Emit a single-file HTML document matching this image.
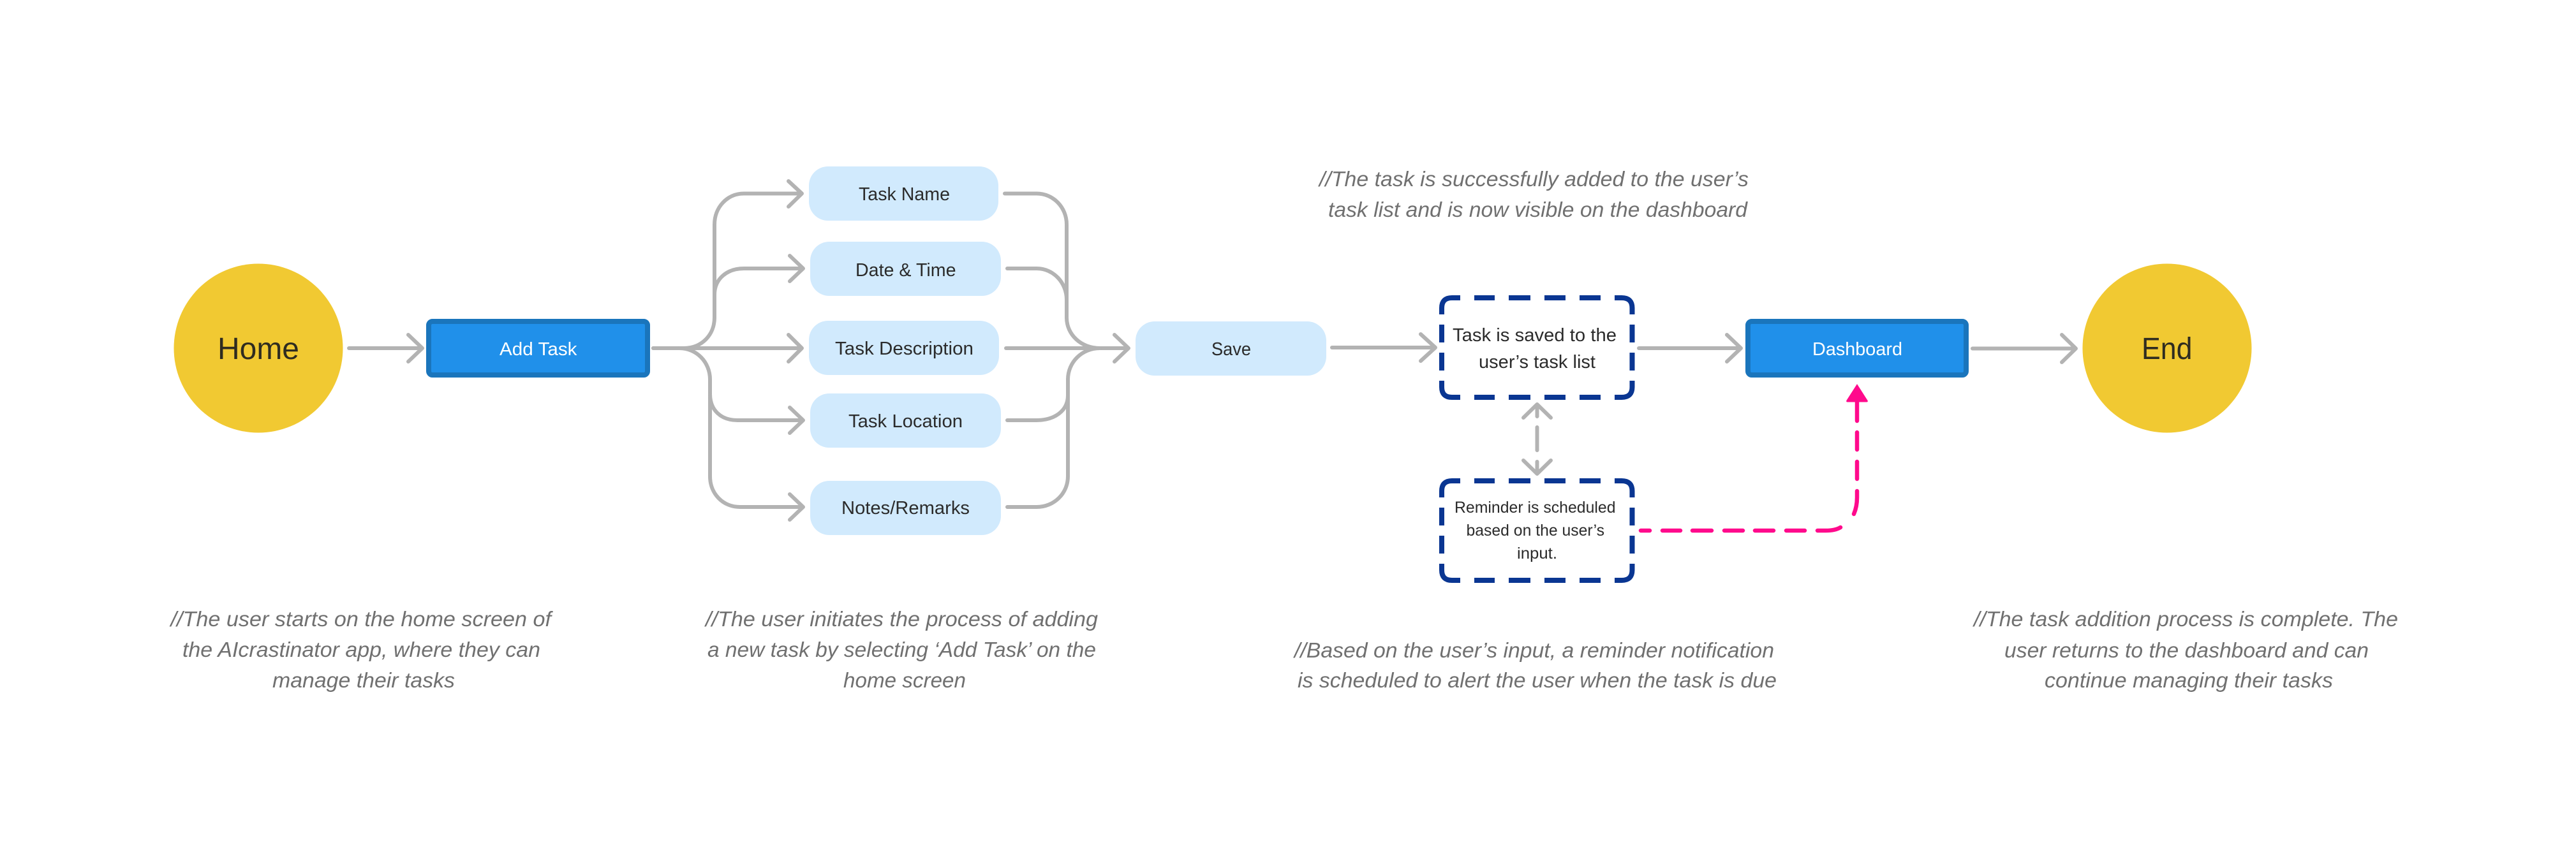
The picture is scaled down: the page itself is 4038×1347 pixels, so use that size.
<!DOCTYPE html>
<html><head><meta charset="utf-8"><style>
html,body{margin:0;padding:0;background:#fff;width:4038px;height:1347px;overflow:hidden}
svg{display:block}
text{font-family:"Liberation Sans",sans-serif}
.a{font-style:italic;font-size:33.5px;fill:#707070}
.n{font-size:29px;fill:#2b2b2b}
.s{font-size:25px;fill:#2b2b2b}
.w{font-size:29px;fill:#fff}
.b{font-size:48.5px;fill:#2f2c20}
.g{fill:none;stroke:#b3b3b3;stroke-width:6;stroke-linecap:round;stroke-linejoin:round}
.d{fill:none;stroke:#0a3692;stroke-width:8}
.p{fill:none;stroke:#ff0a8c;stroke-width:6.5;stroke-linecap:round}
</style></head><body>
<svg width="4038" height="1347" viewBox="0 0 4038 1347" xmlns="http://www.w3.org/2000/svg">
<rect width="4038" height="1347" fill="#fff"/>

<circle cx="405" cy="546" r="132.5" fill="#f1c932"/>
<circle cx="3397" cy="546" r="132.5" fill="#f1c932"/>
<text class="b" x="341" y="563" textLength="128" lengthAdjust="spacingAndGlyphs">Home</text>
<text class="b" x="3357" y="563" textLength="79.5" lengthAdjust="spacingAndGlyphs">End</text>

<rect x="672" y="504" width="343" height="84" rx="6" fill="#2090ea" stroke="#1a75bc" stroke-width="8"/>
<text class="w" x="783" y="557" textLength="121.5" lengthAdjust="spacingAndGlyphs">Add Task</text>
<rect x="2740" y="504" width="342" height="84" rx="6" fill="#2090ea" stroke="#1a75bc" stroke-width="8"/>
<text class="w" x="2841" y="557" textLength="141" lengthAdjust="spacingAndGlyphs">Dashboard</text>

<g fill="#d1eafd">
<rect x="1268" y="261" width="297" height="85" rx="30"/>
<rect x="1270" y="379" width="299" height="85" rx="30"/>
<rect x="1268" y="503" width="298" height="85" rx="30"/>
<rect x="1270" y="617" width="299" height="85" rx="30"/>
<rect x="1270" y="754" width="299" height="85" rx="30"/>
<rect x="1780" y="504" width="299" height="85" rx="30"/>
</g>
<text class="n" x="1346" y="314" textLength="143" lengthAdjust="spacingAndGlyphs">Task Name</text>
<text class="n" x="1341" y="433" textLength="157.5" lengthAdjust="spacingAndGlyphs">Date &amp; Time</text>
<text class="n" x="1309" y="556" textLength="217" lengthAdjust="spacingAndGlyphs">Task Description</text>
<text class="n" x="1330" y="670" textLength="179" lengthAdjust="spacingAndGlyphs">Task Location</text>
<text class="n" x="1319" y="806" textLength="201" lengthAdjust="spacingAndGlyphs">Notes/Remarks</text>
<text class="n" x="1899" y="557" textLength="62" lengthAdjust="spacingAndGlyphs">Save</text>

<!-- simple arrows -->
<g class="g">
<path d="M547 546H661M640 525L662 546L640 567"/>
<path d="M2088 545H2249M2227 524L2250 545L2227 566"/>
<path d="M2569 546H2728M2707 525L2729 546L2707 567"/>
<path d="M3092 546.5H3252M3232 525L3254 546.5L3232 568"/>
<!-- fan out -->
<path d="M1024 546H1072C1100 546 1120 525 1120 498V352C1120 325 1140 303.5 1166 303.5H1256M1236 284L1257 303.5L1236 324"/>
<path d="M1120 498V462C1120 437 1140 421 1166 421H1258M1238 401L1259 421L1238 441"/>
<path d="M1024 546H1256M1236 525L1257 546L1236 567"/>
<path d="M1065 546C1092 546 1113 568 1113 595V747C1113 774 1133 795 1160 795H1258M1238 775L1259 795L1238 815"/>
<path d="M1113 618C1113 643 1130 659 1156 659H1258M1238 639L1259 659L1238 679"/>
<!-- fan in -->
<path d="M1575 303.5H1625C1651 303.5 1672 325 1672 352V498C1672 525 1695 546 1724 546H1768M1747 525L1769 546L1747 567"/>
<path d="M1579 421H1625C1651 421 1672 443 1672 470V498"/>
<path d="M1577 546H1768"/>
<path d="M1579 795H1625C1652 795 1674 774 1674 747V595C1674 568 1696 546 1724 546"/>
<path d="M1579 659H1625C1652 659 1674 645 1674 620V595"/>
<!-- double arrow -->
<path d="M2388 655L2409.5 634L2431 655M2409.5 636V653"/>
<path d="M2409.5 670V706"/>
<path d="M2388 722L2409.5 743L2431 722M2409.5 724V741"/>
</g>

<!-- dashed boxes -->
<g class="d">
<path d="M2260 493V483Q2260 467 2276 467H2289M2311 467H2343M2365 467H2399M2421 467H2454M2476 467H2509M2531 467H2542Q2558.5 467 2558.5 483V493M2558.5 509V537M2558.5 553V581M2558.5 597V607Q2558.5 623 2542 623H2531M2509 623H2476M2454 623H2421M2399 623H2365M2343 623H2311M2289 623H2276Q2260 623 2260 607V597M2260 581V553M2260 537V509"/>
<path transform="translate(0,287)" d="M2260 493V483Q2260 467 2276 467H2289M2311 467H2343M2365 467H2399M2421 467H2454M2476 467H2509M2531 467H2542Q2558.5 467 2558.5 483V493M2558.5 509V537M2558.5 553V581M2558.5 597V607Q2558.5 623 2542 623H2531M2509 623H2476M2454 623H2421M2399 623H2365M2343 623H2311M2289 623H2276Q2260 623 2260 607V597M2260 581V553M2260 537V509"/>
</g>
<text class="n" x="2277" y="535" textLength="257" lengthAdjust="spacingAndGlyphs">Task is saved to the</text>
<text class="n" x="2318" y="577" textLength="183" lengthAdjust="spacingAndGlyphs">user’s task list</text>
<text class="s" x="2280" y="804" textLength="252.5" lengthAdjust="spacingAndGlyphs">Reminder is scheduled</text>
<text class="s" x="2298.5" y="840" textLength="216.5" lengthAdjust="spacingAndGlyphs">based on the user’s</text>
<text class="s" x="2378" y="876" textLength="63" lengthAdjust="spacingAndGlyphs">input.</text>

<!-- pink connector -->
<path class="p" d="M2572 832H2586M2606 832H2634M2653 832H2683M2703 832H2732M2751 832H2780M2800 832H2829M2849 832H2862C2872 832 2880 830 2885 827M2906 806C2909.5 798 2911 790 2911 780V770M2911 751V724M2911 705V678M2911 660V628"/>
<path d="M2911 603L2927 628Q2928 630 2926 630H2896Q2894 630 2895 628Z" fill="#ff0a8c" stroke="#ff0a8c" stroke-width="1"/>

<!-- annotations -->
<text class="a" x="267.5" y="982" textLength="596.5" lengthAdjust="spacingAndGlyphs">//The user starts on the home screen of</text>
<text class="a" x="286" y="1030" textLength="561" lengthAdjust="spacingAndGlyphs">the AIcrastinator app, where they can</text>
<text class="a" x="427" y="1078" textLength="286" lengthAdjust="spacingAndGlyphs">manage their tasks</text>
<text class="a" x="1106" y="982" textLength="615" lengthAdjust="spacingAndGlyphs">//The user initiates the process of adding</text>
<text class="a" x="1109" y="1030" textLength="609" lengthAdjust="spacingAndGlyphs">a new task by selecting ‘Add Task’ on the</text>
<text class="a" x="1322" y="1078" textLength="192" lengthAdjust="spacingAndGlyphs">home screen</text>
<text class="a" x="2068" y="292" textLength="673" lengthAdjust="spacingAndGlyphs">//The task is successfully added to the user’s</text>
<text class="a" x="2082" y="340" textLength="657" lengthAdjust="spacingAndGlyphs">task list and is now visible on the dashboard</text>
<text class="a" x="2029" y="1031" textLength="752" lengthAdjust="spacingAndGlyphs">//Based on the user’s input, a reminder notification</text>
<text class="a" x="2034" y="1078" textLength="751" lengthAdjust="spacingAndGlyphs">is scheduled to alert the user when the task is due</text>
<text class="a" x="3094" y="982" textLength="665" lengthAdjust="spacingAndGlyphs">//The task addition process is complete. The</text>
<text class="a" x="3142" y="1031" textLength="571" lengthAdjust="spacingAndGlyphs">user returns to the dashboard and can</text>
<text class="a" x="3205" y="1078" textLength="452" lengthAdjust="spacingAndGlyphs">continue managing their tasks</text>
</svg>
</body></html>
